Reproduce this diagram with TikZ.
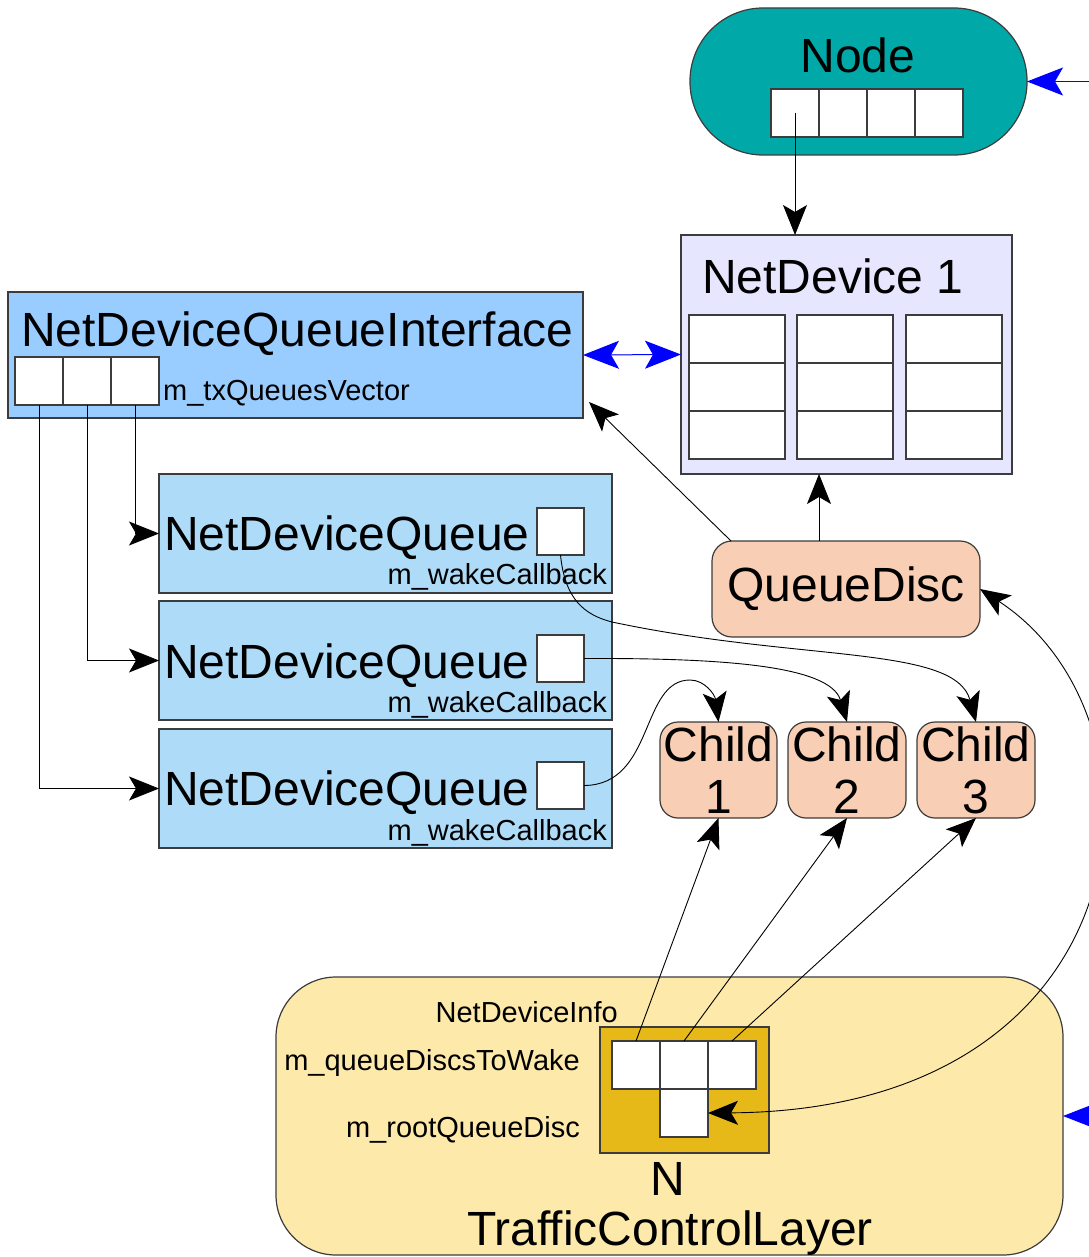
\documentclass[tikz,border=0pt]{standalone}
\usepackage{fontspec}
\setmainfont{Liberation Sans}
\usetikzlibrary{arrows.meta}

\definecolor{boxline}{RGB}{60,60,60}
\definecolor{nodeteal}{RGB}{0,168,168}
\definecolor{devlav}{RGB}{230,230,255}
\definecolor{ifblue}{RGB}{153,204,255}
\definecolor{qblue}{RGB}{174,220,248}
\definecolor{peach}{RGB}{248,206,180}
\definecolor{tclyellow}{RGB}{253,233,169}
\definecolor{ndigold}{RGB}{230,185,24}
\definecolor{arrowblue}{RGB}{0,0,255}

\begin{document}
\begin{tikzpicture}[
		x=1pt, y=-1pt,
		box/.style={rectangle, draw=boxline, line width=1.2pt, inner sep=0pt, outer sep=0pt},
		cell/.style={box, fill=white, minimum width=48pt, minimum height=48pt},
		bigtext/.style={font=\fontsize{48}{52}\selectfont, inner sep=0pt},
		smalltext/.style={font=\fontsize{29}{34}\selectfont, inner sep=0pt},
		arr/.style={-{Stealth[length=30pt,width=24pt,inset=7pt]}, line width=0.9pt},
		dblarr/.style={{Stealth[length=30pt,width=24pt,inset=7pt]}-{Stealth[length=30pt,width=24pt,inset=7pt]}, line width=0.9pt},
		bluearr/.style={-{Stealth[length=36pt,width=28pt,inset=8pt]}, draw=arrowblue, fill=arrowblue, line width=1pt},
		bluedbl/.style={{Stealth[length=36pt,width=28pt,inset=8pt]}-{Stealth[length=36pt,width=28pt,inset=8pt]}, draw=arrowblue, fill=arrowblue, line width=1pt}
	]
		\useasboundingbox (0,0) rectangle (1088,1257);

		% Node
		\node[box, fill=nodeteal, rounded corners=73pt, minimum width=337pt, minimum height=147pt](node) at (858.5,81.5){};
		\node[bigtext, anchor=base](node-txt) at (858,73){Node};
		\node[cell](node-c1) at (795,113){};
		\node[cell](node-c2) at (843,113){};
		\node[cell](node-c3) at (891,113){};
		\node[cell](node-c4) at (939,113){};
		\coordinate (node-in) at (1100,81.5);

		% NetDevice
		\node[box, fill=devlav, minimum width=331pt, minimum height=239pt](nd) at (846.5,354.5){};
		\node[bigtext, anchor=base west](nd-txt) at (702,293){NetDevice 1};
		\foreach \c/\x in {1/737,2/845,3/954}
			\foreach \r/\y in {1/339,2/387,3/435}
				\node[cell, minimum width=96pt](nd-\c-\r) at (\x,\y){};

		% NetDeviceQueueInterface
		\node[box, fill=ifblue, minimum width=575pt, minimum height=126pt](ndqi) at (295.5,355){};
		\node[bigtext, anchor=base west](ndqi-txt) at (21,346){NetDeviceQueueInterface};
		\node[cell](ndqi-c1) at (39,381){};
		\node[cell](ndqi-c2) at (87,381){};
		\node[cell](ndqi-c3) at (135,381){};
		\node[smalltext, anchor=base west](ndqi-lbl) at (163,400){m\_txQueuesVector};

		% NetDeviceQueues
		\node[box, fill=qblue, minimum width=453pt, minimum height=119pt](ndq1) at (385.5,533.5){};
		\node[bigtext, anchor=base west](ndq1-txt) at (164,550){NetDeviceQueue};
		\node[cell, minimum size=47pt](ndq1-sq) at (560.5,531.5){};
		\node[smalltext, anchor=base east](ndq1-cb) at (607,584){m\_wakeCallback};

		\node[box, fill=qblue, minimum width=453pt, minimum height=119pt](ndq2) at (385.5,660.5){};
		\node[bigtext, anchor=base west](ndq2-txt) at (164,678){NetDeviceQueue};
		\node[cell, minimum size=47pt](ndq2-sq) at (560.5,658.5){};
		\node[smalltext, anchor=base east](ndq2-cb) at (607,712){m\_wakeCallback};

		\node[box, fill=qblue, minimum width=453pt, minimum height=119pt](ndq3) at (385.5,788.5){};
		\node[bigtext, anchor=base west](ndq3-txt) at (164,805){NetDeviceQueue};
		\node[cell, minimum size=47pt](ndq3-sq) at (560.5,785.5){};
		\node[smalltext, anchor=base east](ndq3-cb) at (607,840){m\_wakeCallback};

		% QueueDisc and its children
		\node[box, fill=peach, rounded corners=20pt, minimum width=268pt, minimum height=96pt, bigtext](qd) at (846,589){QueueDisc};
		\node[box, fill=peach, rounded corners=18pt, minimum width=117pt, minimum height=96pt, bigtext, align=center](c1) at (718.5,770){Child\\1};
		\node[box, fill=peach, rounded corners=18pt, minimum width=118pt, minimum height=96pt, bigtext, align=center](c2) at (847,770){Child\\2};
		\node[box, fill=peach, rounded corners=18pt, minimum width=118pt, minimum height=96pt, bigtext, align=center](c3) at (976,770){Child\\3};

		% TrafficControlLayer
		\node[box, fill=tclyellow, rounded corners=60pt, minimum width=787pt, minimum height=278pt](tcl) at (669.5,1116){};
		\node[box, fill=ndigold, minimum width=169pt, minimum height=126pt](ndi) at (684.5,1090){};
		\node[cell](t1) at (636,1065){};
		\node[cell](t2) at (684,1065){};
		\node[cell](t3) at (732,1065){};
		\node[cell](troot) at (684,1113){};
		\node[smalltext, anchor=base east](ndi-lbl) at (618,1022){NetDeviceInfo};
		\node[smalltext, anchor=base east](wake-lbl) at (580,1070){m\_queueDiscsToWake};
		\node[smalltext, anchor=base east](root-lbl) at (580,1137){m\_rootQueueDisc};
		\node[bigtext, anchor=base](n-txt) at (668,1195){N};
		\node[bigtext, anchor=base](tcl-txt) at (670,1245){TrafficControlLayer};
		\coordinate (tcl-in) at (1100,1116);

		% connectors
		\draw[bluearr](node-in) -- (node.east);
		\draw[bluearr](tcl-in) -- (tcl.east);
		\draw[bluedbl](ndqi.east) -- (nd.west);
		\draw[arr](node-c1.center) -- (node-c1.center |- nd.north);
		\draw[arr]([xshift=-27pt]qd.north) -- ([xshift=-27.5pt]nd.south);
		\draw[arr]([xshift=19pt]qd.north west) -- ([xshift=6pt,yshift=16pt]ndqi.south east);

		\draw[arr](ndqi-c3.south) |- (ndq1.west);
		\draw[arr](ndqi-c2.south) |- (ndq2.west);
		\draw[arr](ndqi-c1.south) |- (ndq3.west);

		\draw[arr](ndq1-sq.south) .. controls (565,600) and (585,615) .. (612,622) .. controls (800,662) and (955,645) .. (c3.north);
		\draw[arr](ndq2-sq.east) .. controls (720,658) and (830,665) .. (c2.north);
		\draw[arr](ndq3-sq.east) .. controls (655,785) and (640,680) .. (690,680) .. controls (705,680) and (715,695) .. (c1.north);

		\draw[arr](t1.north) -- (c1.south);
		\draw[arr](t2.north) -- (c2.south);
		\draw[arr](t3.north) -- (c3.south);
		\draw[dblarr](troot.east) .. controls (1150,1110) and (1180,720) .. (qd.east);
	\end{tikzpicture}
\end{document}
